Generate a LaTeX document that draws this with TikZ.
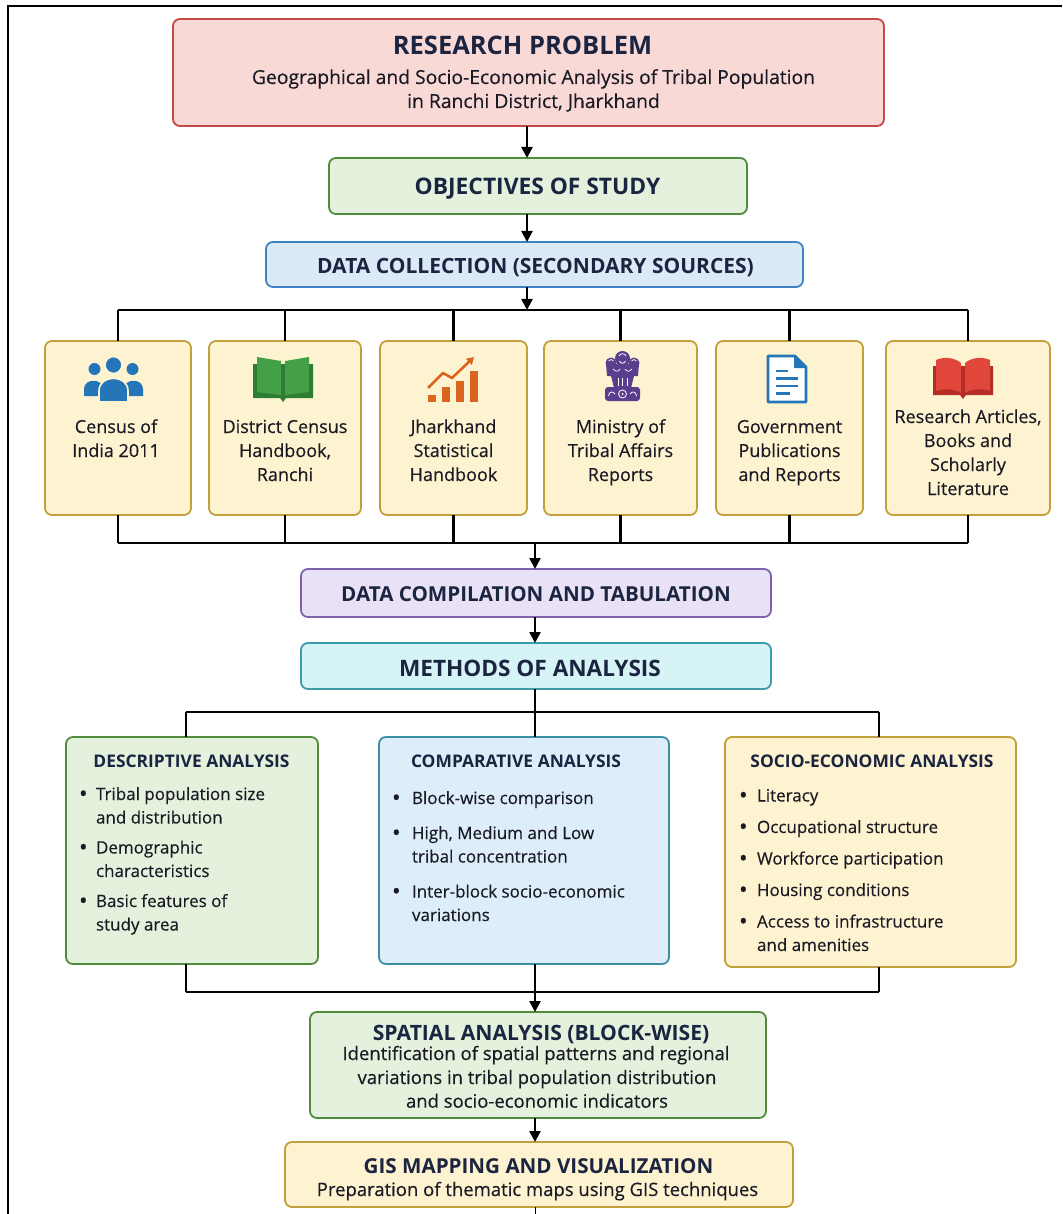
\documentclass[tikz,border=0pt]{standalone}
\usepackage{fontspec}
\setmainfont{Open Sans}
\newfontfamily\bodyfont{Open Sans}[FakeBold=0.35]
\usetikzlibrary{arrows.meta}

\definecolor{navy}{HTML}{1B2440}
\definecolor{ink}{HTML}{1A1A24}
\definecolor{redB}{HTML}{C4494B}\definecolor{redF}{HTML}{F8D9D6}
\definecolor{grnB}{HTML}{4F8C3D}\definecolor{grnF}{HTML}{E4F1DC}
\definecolor{bluB}{HTML}{3E82C4}\definecolor{bluF}{HTML}{DCEAF8}
\definecolor{yelB}{HTML}{C29F3A}\definecolor{yelF}{HTML}{FEF3D0}
\definecolor{purB}{HTML}{7D62AE}\definecolor{purF}{HTML}{E9E2F6}
\definecolor{cyaB}{HTML}{3E9CA7}\definecolor{cyaF}{HTML}{D6F3F5}
\definecolor{tealB}{HTML}{3A8FA6}\definecolor{tealF}{HTML}{DDEEFA}
\definecolor{icoBlue}{HTML}{2576B8}
\definecolor{icoGreenD}{HTML}{2E7D32}\definecolor{icoGreen}{HTML}{43A047}
\definecolor{icoOrange}{HTML}{D9651E}
\definecolor{icoPurple}{HTML}{5A3E8E}
\definecolor{icoRed}{HTML}{E0463A}\definecolor{icoRedD}{HTML}{B52E25}

\newcommand\bl[2]{\makebox[#1][l]{\raisebox{-1.6pt}{\fontsize{23}{23}\selectfont •}}#2}
\newcommand\ind[1]{\hspace*{#1}}

\tikzset{
  every node/.style={inner sep=0pt, outer sep=0pt},
  card/.style={draw, rounded corners=7pt, line width=1.8pt},
  ttl/.style={anchor=base, text=navy, font=\bfseries\fontsize{#1}{#1}\selectfont},
  bodyline/.style={anchor=base, text=ink, font=\bodyfont\fontsize{#1}{24}\selectfont},
  src/.style={anchor=north, align=center, text=ink, font=\bodyfont\fontsize{18}{24}\selectfont},
  bullets/.style={anchor=north west, align=left, text=ink, font=\bodyfont\fontsize{17}{23.5}\selectfont},
  conn/.style={line width=2.4pt, black},
  arr/.style={conn, -{Triangle[length=11pt,width=11pt]}}
}

\begin{document}
\begin{tikzpicture}[x=1pt,y=-1pt]
\useasboundingbox (0,0) rectangle (1062,1214);
\fill[white] (0,0) rectangle (1062,1214);
\draw[line width=1.6pt] (8,1214) -- (8,6) -- (1062,6);

% ---------- top chain ----------
\node[card, draw=redB, fill=redF, minimum width=711pt, minimum height=107pt] (rp) at (528.5,72.5) {};
\node[ttl=25.5] (rpT) at (522.5,55) {RESEARCH PROBLEM};
\node[bodyline=19.3] (rp1) at (533.5,84) {Geographical and Socio-Economic Analysis of Tribal Population};
\node[bodyline=19.3] (rp2) at (533.5,108) {in Ranchi District, Jharkhand};

\node[card, draw=grnB, fill=grnF, minimum width=418pt, minimum height=56pt] (obj) at (538,186) {};
\node[ttl=22.8] (objT) at (537.5,195) {OBJECTIVES OF STUDY};

\node[card, draw=bluB, fill=bluF, minimum width=537pt, minimum height=45pt] (dc) at (534.5,264.5) {};
\node[ttl=21] (dcT) at (535.5,273.5) {DATA COLLECTION (SECONDARY SOURCES)};

\coordinate (bt) at (0,310);
\coordinate (bb) at (0,543);

% ---------- source cards ----------
\node[card, draw=yelB, fill=yelF, minimum width=146pt, minimum height=174pt] (s1) at (118,428) {};
\node[card, draw=yelB, fill=yelF, minimum width=152pt, minimum height=174pt] (s2) at (285,428) {};
\node[card, draw=yelB, fill=yelF, minimum width=147pt, minimum height=174pt] (s3) at (453.5,428) {};
\node[card, draw=yelB, fill=yelF, minimum width=153pt, minimum height=174pt] (s4) at (620.5,428) {};
\node[card, draw=yelB, fill=yelF, minimum width=147pt, minimum height=174pt] (s5) at (789.5,428) {};
\node[card, draw=yelB, fill=yelF, minimum width=164pt, minimum height=174pt] (s6) at (968,428) {};

\node[src] (t1) at (116,416) {\rule{0pt}{17pt}Census of\\India 2011};
\node[src] (t2) at (285,416) {\rule{0pt}{17pt}District Census\\Handbook,\\Ranchi};
\node[src] (t3) at (453.5,416) {\rule{0pt}{17pt}Jharkhand\\Statistical\\Handbook};
\node[src] (t4) at (620.5,416) {\rule{0pt}{17pt}Ministry of\\Tribal Affairs\\Reports};
\node[src] (t5) at (789.5,416) {\rule{0pt}{17pt}Government\\Publications\\and Reports};
\node[src] (t6) at (968,406) {\rule{0pt}{17pt}Research Articles,\\Books and\\Scholarly\\Literature};

% icon 1: people
\begin{scope}[fill=icoBlue]
  \fill (84,396) -- (84,389) .. controls (84,378) and (103,378) .. (103,389) -- (103,396) -- cycle;
  \fill (124,396) -- (124,389) .. controls (124,378) and (143,378) .. (143,389) -- (143,396) -- cycle;
  \fill (94.5,369) circle (6);
  \fill (132.5,369) circle (6);
  \filldraw[draw=yelF, line width=1.6pt] (99,402) -- (99,391) .. controls (99,374) and (128,374) .. (128,391) -- (128,402) -- cycle;
  \filldraw[draw=yelF, line width=1.6pt] (113.5,365) circle (8.5);
\end{scope}

% icon 2: green book
\fill[icoGreenD] (253,364) -- (253,398) -- (280,398) -- (283,402) -- (286,398) -- (313,398) -- (313,364) -- cycle;
\fill[icoGreen] (257,357) -- (281,361) -- (281,395) -- (257,392) -- cycle;
\fill[icoGreen] (285,361) -- (309,357) -- (309,392) -- (285,395) -- cycle;

% icon 3: bar chart
\fill[icoOrange] (428,395) rectangle (436,402);
\fill[icoOrange] (442,387) rectangle (450,402);
\fill[icoOrange] (456,381) rectangle (464,402);
\fill[icoOrange] (470,371) rectangle (478,402);
\draw[icoOrange, line width=2.6pt, line join=round, -{Triangle[length=7pt,width=8pt]}] (428,388) -- (443,373) -- (452,378) -- (474,357);

% icon 4: national emblem (simplified)
\begin{scope}
  \fill[icoPurple] (611,363) circle (5.5);
  \fill[icoPurple] (634,363) circle (5.5);
  \fill[icoPurple] (622.5,358.5) circle (7.5);
  \fill[icoPurple] (606,364) -- (639,364) -- (638,376) -- (607,376) -- cycle;
  \draw[white, line width=0.8pt] (619,356) .. controls (620,353) and (625,353) .. (626,356);
  \draw[white, line width=0.8pt] (619.5,361) .. controls (621,364) and (624,364) .. (625.5,361);
  \draw[white, line width=0.7pt] (608.5,361) .. controls (610,359) and (612,359) .. (613.5,361);
  \draw[white, line width=0.7pt] (631.5,361) .. controls (633,359) and (635,359) .. (636.5,361);
  \draw[white, line width=0.7pt] (613,369) .. controls (616,372) and (618,372) .. (620,369);
  \draw[white, line width=0.7pt] (625,369) .. controls (627,372) and (629,372) .. (632,369);
  \fill[icoPurple] (611,376) -- (634,376) -- (631,388) -- (614,388) -- cycle;
  \draw[white, line width=0.7pt] (618,378) -- (618,386) (622.5,378) -- (622.5,386) (627,378) -- (627,386);
  \fill[icoPurple, rounded corners=3pt] (605,387) rectangle (640,401);
  \draw[white, line width=0.8pt] (622.5,394) circle (4);
  \fill[white] (622.5,394) circle (1);
  \draw[white, line width=0.8pt] (608.5,396) .. controls (609,391) and (613,391) .. (615,394);
  \draw[white, line width=0.8pt] (636.5,396) .. controls (636,391) and (632,391) .. (630,394);
\end{scope}

% icon 5: document
\filldraw[draw=icoBlue, fill=white, line width=2.6pt, line join=round] (768,356) -- (795,356) -- (806,367) -- (806,402) -- (768,402) -- cycle;
\fill[icoBlue] (794,356) -- (794,368) -- (806,368) -- cycle;
\draw[icoBlue, line width=2.4pt] (776,371) -- (788,371) (776,378.5) -- (798,378.5) (776,386) -- (798,386) (776,393.5) -- (790,393.5);

% icon 6: red book
\fill[icoRedD] (933,366) -- (933,395) -- (960,395) -- (963,399) -- (966,395) -- (993,395) -- (993,366) -- cycle;
\fill[icoRed] (936,360) .. controls (945,356) and (955,358) .. (961,363) -- (961,393) .. controls (955,389) and (945,388) .. (936,391) -- cycle;
\fill[icoRed] (965,363) .. controls (971,358) and (981,356) .. (990,360) -- (990,391) .. controls (981,388) and (971,389) .. (965,393) -- cycle;

% ---------- middle chain ----------
\node[card, draw=purB, fill=purF, minimum width=470pt, minimum height=48pt] (dcomp) at (536,593) {};
\node[ttl=20.6] (dcompT) at (536,601.5) {DATA COMPILATION AND TABULATION};

\node[card, draw=cyaB, fill=cyaF, minimum width=470pt, minimum height=46pt] (meth) at (536,666) {};
\node[ttl=22.6] (methT) at (530,676) {METHODS OF ANALYSIS};

% ---------- analysis cards ----------
\node[card, draw=grnB, fill=grnF, minimum width=252pt, minimum height=227pt] (a1) at (192,850.5) {};
\node[card, draw=tealB, fill=tealF, minimum width=290pt, minimum height=227pt] (a2) at (524,850.5) {};
\node[card, draw=yelB, fill=yelF, minimum width=291pt, minimum height=230pt] (a3) at (870.5,852) {};

\node[ttl=17.4] (a1T) at (191.5,767) {DESCRIPTIVE ANALYSIS};
\node[ttl=17.4] (a2T) at (516,767) {COMPARATIVE ANALYSIS};
\node[ttl=17.4] (a3T) at (872,767) {SOCIO-ECONOMIC ANALYSIS};

\node[bullets] (a1B) at (79,784) {\rule{0pt}{16pt}\bl{17pt}{Tribal population size}\\\ind{17pt}and distribution\\[6.5pt]\bl{17pt}{Demographic}\\\ind{17pt}characteristics\\[6.5pt]\bl{17pt}{Basic features of}\\\ind{17pt}study area};
\node[bullets] (a2B) at (392,788) {\rule{0pt}{16pt}\bl{20pt}{Block-wise comparison}\\[11.5pt]\bl{20pt}{High, Medium and Low}\\\ind{20pt}tribal concentration\\[11.5pt]\bl{20pt}{Inter-block socio-economic}\\\ind{20pt}variations};
\node[bullets] (a3B) at (739,785.5) {\rule{0pt}{16pt}\bl{18pt}{Literacy}\\[8pt]\bl{18pt}{Occupational structure}\\[8pt]\bl{18pt}{Workforce participation}\\[8pt]\bl{18pt}{Housing conditions}\\[8pt]\bl{18pt}{Access to infrastructure}\\\ind{18pt}and amenities};

% ---------- bottom chain ----------
\node[card, draw=grnB, fill=grnF, minimum width=456pt, minimum height=106pt] (sp) at (538,1065) {};
\node[ttl=21.1] (spT) at (541,1040) {SPATIAL ANALYSIS (BLOCK-WISE)};
\node[bodyline=18.5] (sp1) at (536,1060) {Identification of spatial patterns and regional};
\node[bodyline=18.5] (sp2) at (537,1084) {variations in tribal population distribution};
\node[bodyline=18.5] (sp3) at (537,1107.7) {and socio-economic indicators};

\node[card, draw=yelB, fill=yelF, minimum width=508pt, minimum height=65pt] (gis) at (539,1174.5) {};
\node[ttl=20.6] (gisT) at (538.5,1173) {GIS MAPPING AND VISUALIZATION};
\node[bodyline=18.5] (gis1) at (537.5,1196) {Preparation of thematic maps using GIS techniques};

% ---------- connectors ----------
\coordinate (ax) at (527,0);
\draw[arr] (ax |- rp.south) -- (ax |- obj.north);
\draw[arr] (ax |- obj.south) -- (ax |- dc.north);
\draw[arr] (ax |- dc.south) -- (ax |- bt);

\draw[conn] (s1.north |- bt) -- (s6.north |- bt);
\foreach \s in {s1,s2,s3,s4,s5,s6}{
  \draw[conn] (\s.north |- bt) -- (\s.north);
  \draw[conn] (\s.south) -- (\s.south |- bb);
}
\draw[conn] (s1.south |- bb) -- (s6.south |- bb);

\coordinate (mx) at (535,0);
\draw[arr] (mx |- bb) -- (mx |- dcomp.north);
\draw[arr] (mx |- dcomp.south) -- (mx |- meth.north);

\coordinate (ab1) at (186,712);
\coordinate (ab2) at (535,712);
\coordinate (ab3) at (879,712);
\coordinate (cb1) at (186,992);
\coordinate (cb2) at (535,992);
\coordinate (cb3) at (879,992);
\draw[conn] (ab2 |- meth.south) -- (ab2);
\draw[conn] (ab1) -- (ab3);
\draw[conn] (ab1) -- (ab1 |- a1.north);
\draw[conn] (ab2) -- (ab2 |- a2.north);
\draw[conn] (ab3) -- (ab3 |- a3.north);
\draw[conn] (cb1 |- a1.south) -- (cb1);
\draw[conn] (cb2 |- a2.south) -- (cb2);
\draw[conn] (cb3 |- a3.south) -- (cb3);
\draw[conn] (cb1) -- (cb3);
\draw[arr] (cb2) -- (cb2 |- sp.north);
\draw[arr] (cb2 |- sp.south) -- (cb2 |- gis.north);
\coordinate (bottom) at (535,1214);
\draw[line width=1pt] (cb2 |- gis.south) -- (bottom);
\end{tikzpicture}
\end{document}
